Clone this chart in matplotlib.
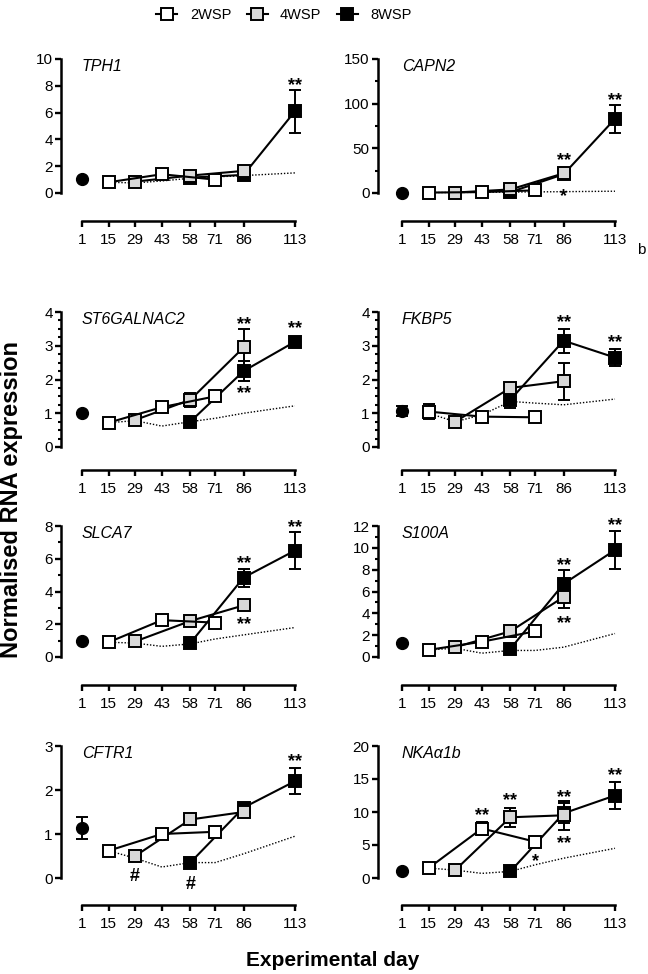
import numpy as np
import matplotlib
matplotlib.use("Agg")
import matplotlib.pyplot as plt
from matplotlib.ticker import MultipleLocator
from matplotlib.lines import Line2D
from matplotlib.transforms import offset_copy

plt.rcParams['font.family'] = ['Liberation Sans', 'DejaVu Sans']

# dias de muestreo
day_ticks = [1, 15, 29, 43, 58, 71, 86, 113]
days_2wsp = [15, 43, 71]
days_4wsp = [29, 58, 86]
days_8wsp = [58, 86, 113]
days_ctrl = [15, 29, 43, 58, 71, 86, 113]

genes = ["TPH1", "CAPN2", "ST6GALNAC2", "FKBP5", "SLCA7", "S100A", "CFTR1", "NKAα1b"]
y_max = [10, 150, 4, 4, 8, 12, 3, 20]
y_step = [2, 50, 1, 1, 2, 2, 1, 5]
y_minor = [None, 25, 0.25, 0.25, 1, 1, None, None]

day1 = {"TPH1": 1.05, "CAPN2": 0.5, "ST6GALNAC2": 1.0, "FKBP5": 1.07,
        "SLCA7": 1.0, "S100A": 1.3, "CFTR1": 1.13, "NKAα1b": 1.0}
day1_err = {"TPH1": 0, "CAPN2": 0, "ST6GALNAC2": 0, "FKBP5": 0.15,
            "SLCA7": 0, "S100A": 0, "CFTR1": 0.25, "NKAα1b": 0}

wsp2 = {"TPH1": [0.8, 1.4, 1.0], "CAPN2": [0.5, 1.0, 3.0],
        "ST6GALNAC2": [0.72, 1.18, 1.5], "FKBP5": [1.05, 0.9, 0.88],
        "SLCA7": [0.9, 2.25, 2.1], "S100A": [0.65, 1.4, 2.35],
        "CFTR1": [0.62, 1.0, 1.05], "NKAα1b": [1.5, 7.5, 5.5]}
wsp2_err = {"TPH1": [0, 0, 0], "CAPN2": [0, 0, 0],
            "ST6GALNAC2": [0, 0, 0], "FKBP5": [0.22, 0, 0],
            "SLCA7": [0, 0, 0], "S100A": [0, 0, 0],
            "CFTR1": [0, 0, 0], "NKAα1b": [0, 1.0, 0]}

wsp4 = {"TPH1": [0.85, 1.3, 1.65], "CAPN2": [0.5, 4.0, 22.0],
        "ST6GALNAC2": [0.8, 1.4, 2.95], "FKBP5": [0.75, 1.75, 1.95],
        "SLCA7": [0.95, 2.2, 3.15], "S100A": [0.9, 2.35, 5.5],
        "CFTR1": [0.5, 1.33, 1.5], "NKAα1b": [1.2, 9.2, 9.5]}
wsp4_err = {"TPH1": [0, 0, 0], "CAPN2": [0, 0, 0],
            "ST6GALNAC2": [0, 0.2, 0.55], "FKBP5": [0, 0.1, 0.55],
            "SLCA7": [0, 0, 0], "S100A": [0, 0, 1.0],
            "CFTR1": [0, 0.08, 0], "NKAα1b": [0, 1.4, 2.2]}

wsp8 = {"TPH1": [1.15, 1.35, 6.1], "CAPN2": [1.0, 21.0, 83.0],
        "ST6GALNAC2": [0.75, 2.25, 3.12], "FKBP5": [1.4, 3.15, 2.65],
        "SLCA7": [0.85, 4.85, 6.5], "S100A": [0.75, 6.7, 9.8],
        "CFTR1": [0.35, 1.6, 2.2], "NKAα1b": [1.0, 9.8, 12.5]}
wsp8_err = {"TPH1": [0, 0, 1.6], "CAPN2": [0, 0, 16.0],
            "ST6GALNAC2": [0, 0.3, 0.15], "FKBP5": [0.25, 0.35, 0.25],
            "SLCA7": [0, 0.55, 1.15], "S100A": [0, 1.3, 1.75],
            "CFTR1": [0, 0, 0.3], "NKAα1b": [0, 1.5, 2.0]}

ctrl = {"TPH1": [0.8, 0.75, 0.9, 1.1, 1.2, 1.3, 1.5],
        "CAPN2": [0.5, 0.6, 0.8, 1.0, 1.2, 1.5, 2.0],
        "ST6GALNAC2": [0.72, 0.78, 0.62, 0.75, 0.85, 1.0, 1.22],
        "FKBP5": [1.0, 0.75, 0.95, 1.35, 1.3, 1.25, 1.42],
        "SLCA7": [0.9, 0.85, 0.65, 0.8, 1.1, 1.35, 1.8],
        "S100A": [0.65, 0.8, 0.35, 0.6, 0.6, 0.9, 2.15],
        "CFTR1": [0.62, 0.45, 0.25, 0.35, 0.35, 0.55, 0.95],
        "NKAα1b": [1.5, 1.2, 0.7, 1.0, 2.0, 3.0, 4.5]}

# marcas de significancia (dia, y, texto)
signif = {"TPH1": [(113, 8.2, "**")],
          "CAPN2": [(86, 39, "**"), (86, -1.5, "*"), (113, 106, "**")],
          "ST6GALNAC2": [(86, 3.7, "**"), (86, 1.64, "**"), (113, 3.58, "**")],
          "FKBP5": [(86, 3.76, "**"), (113, 3.14, "**")],
          "SLCA7": [(86, 5.8, "**"), (86, 2.13, "**"), (113, 8.05, "**")],
          "S100A": [(86, 8.6, "**"), (86, 3.24, "**"), (113, 12.2, "**")],
          "CFTR1": [(29, 0.07, "#"), (58, -0.11, "#"), (113, 2.68, "**")],
          "NKAα1b": [(43, 9.7, "**"), (58, 12.0, "**"), (71, 2.8, "*"),
                     (86, 12.5, "**"), (86, 5.5, "**"), (113, 15.8, "**")]}

W, H = 648, 974
px_per_day = 1.902
col_left = [61, 378]
col_xmin = [-10, -11.6]
row_top = [59, 312, 526, 746]
row_bot = [193, 447, 657, 878]
row_gap = [28, 23, 28, 27]

fig = plt.figure(figsize=(W / 100, H / 100), dpi=100)

for i, g in enumerate(genes):
    r, c = divmod(i, 2)
    xmin, xmax = col_xmin[c], 116
    wpx = (xmax - xmin) * px_per_day
    ax = fig.add_axes([col_left[c] / W, 1 - row_bot[r] / H, wpx / W,
                       (row_bot[r] - row_top[r]) / H])
    ax.set_xlim(xmin, xmax)
    ax.set_ylim(0, y_max[i])

    ax.plot(days_ctrl, ctrl[g], color='black', lw=1.0, ls=(0, (1, 1.3)), zorder=1, clip_on=False)

    for days, vals, errs, fill, z in [(days_8wsp, wsp8[g], wsp8_err[g], 'black', 2),
                                      (days_4wsp, wsp4[g], wsp4_err[g], '#d9d9d9', 4),
                                      (days_2wsp, wsp2[g], wsp2_err[g], 'white', 6)]:
        d = [x for x, e in zip(days, errs) if e > 0]
        v = [y for y, e in zip(vals, errs) if e > 0]
        e = [e for e in errs if e > 0]
        if d:
            ax.errorbar(d, v, yerr=e, fmt='none', ecolor='black', elinewidth=1.4,
                        capsize=4, capthick=1.4, zorder=z, clip_on=False)
        ax.plot(days, vals, color='black', lw=1.5, marker='s', ms=8.3, mfc=fill,
                mec='black', mew=1.4, zorder=z + 0.5, clip_on=False)

    if day1_err[g] > 0:
        ax.errorbar([1], [day1[g]], yerr=[day1_err[g]], fmt='none', ecolor='black',
                    elinewidth=1.4, capsize=4, capthick=1.4, clip_on=False)
    ax.plot([1], [day1[g]], 'o', color='black', ms=8.5, clip_on=False, zorder=3)

    # centrar la tinta del asterisco / almohadilla en el valor y
    for x, y, t in signif[g]:
        if t == '#':
            tr = offset_copy(ax.transData, fig=fig, y=-6.3, units='dots')
            ax.text(x, y, t, ha='center', va='baseline', fontsize=13,
                    fontweight='bold', zorder=10, transform=tr)
        else:
            tr = offset_copy(ax.transData, fig=fig, y=-6.5, units='dots')
            ax.text(x, y, t, ha='center', va='baseline', fontsize=13,
                    fontweight='bold', zorder=10, transform=tr)

    ax.text(1, y_max[i], g, style='italic', fontsize=11.5, ha='left', va='top')

    for s in ['top', 'right']:
        ax.spines[s].set_visible(False)
    ax.spines['left'].set_bounds(0, y_max[i])
    ax.spines['bottom'].set_bounds(1, 113)
    ax.spines['bottom'].set_position(('outward', row_gap[r] * 0.72))
    for s in ['left', 'bottom']:
        ax.spines[s].set_linewidth(1.8)
    ax.set_xticks(day_ticks)
    ax.set_yticks(np.arange(0, y_max[i] + y_step[i] / 2, y_step[i]))
    if y_minor[i]:
        ax.yaxis.set_minor_locator(MultipleLocator(y_minor[i]))
    ax.tick_params(which='major', length=4.5, width=1.7, labelsize=11, pad=1.5)
    ax.tick_params(which='minor', length=2.5, width=1.5)
    ax.tick_params(axis='x', pad=4)
    ax.patch.set_alpha(0)

fig.text(641 / W, 1 - 250 / H, "b", fontsize=11, ha='center', va='center')
fig.text(12 / W, 1 - 500 / H, "Normalised RNA expression", rotation=90, fontsize=17,
         fontweight='bold', ha='center', va='center')
fig.text(333 / W, 1 - 960 / H, "Experimental day", fontsize=15, fontweight='bold',
         ha='center', va='center')

handles = [Line2D([], [], color='black', lw=1.5, marker='s', ms=8, mfc=f, mec='black', mew=1.4)
           for f in ['white', '#d9d9d9', 'black']]
fig.legend(handles, ["2WSP", "4WSP", "8WSP"], loc='center', ncol=3, frameon=False,
           bbox_to_anchor=(284 / W, 1 - 15 / H), fontsize=10.5, handlelength=1.45,
           columnspacing=1.05, handletextpad=0.85)

fig.savefig("out.png", dpi=100)
